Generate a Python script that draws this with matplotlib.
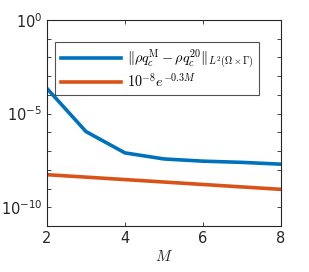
import matplotlib
matplotlib.use("Agg")
import matplotlib.pyplot as plt
from matplotlib.ticker import FixedLocator, NullFormatter, FixedFormatter
from matplotlib.font_manager import FontProperties

plt.rcParams['mathtext.fontset'] = 'dejavusans'

M = [2, 3, 4, 5, 6, 7, 8]
err = [2.2e-4, 1.1e-6, 8.0e-8, 3.8e-8, 2.9e-8, 2.5e-8, 2.0e-8]
ref = [5.49e-9, 4.07e-9, 3.01e-9, 2.23e-9, 1.65e-9, 1.22e-9, 9.07e-10]
xticks = [2, 4, 6, 8]
yticks = [1e-10, 1e-5, 1e0]
yticklabels = [r'10$^{-10}$', r'10$^{-5}$', r'10$^{0}$']

fig = plt.figure(figsize=(3.09, 2.72), dpi=100)
ax = fig.add_axes([47/309, 1-226/272, (281-47)/309, (226-20)/272])
ax.plot(M, err, color='#0072BD', lw=2.6,
        label=r'$\|\rho q_c^{\mathrm{M}} - \rho q_c^{20}\|_{L^2(\Omega\times\Gamma)}$')
ax.plot(M, ref, color='#D95319', lw=2.6, label=r'$10^{-8}e^{-0.3M}$')
ax.set_yscale('log')
ax.set_xlim(2, 8)
ax.set_ylim(1e-11, 1)
ax.set_xticks(xticks)
ax.yaxis.set_major_locator(FixedLocator(yticks))
ax.yaxis.set_major_formatter(FixedFormatter(yticklabels))
ax.yaxis.set_minor_locator(FixedLocator([10.0**k for k in range(-11, 1)]))
ax.yaxis.set_minor_formatter(NullFormatter())
ax.tick_params(which='both', direction='in', top=True, right=True, colors='#262626',
               labelsize=10.5, width=0.6, length=3)
for s in ax.spines.values():
    s.set_color('#262626')
    s.set_linewidth(0.8)
ax.set_xlabel(r'$M$', color='#262626', labelpad=2,
              fontproperties=FontProperties(size=11, math_fontfamily='cm'))
leg = ax.legend(loc='upper left', bbox_to_anchor=(0.035, 0.895),
                prop=FontProperties(size=10.3, math_fontfamily='cm'),
                frameon=True, fancybox=False, edgecolor='#262626', handlelength=4.2,
                borderpad=0.4, labelspacing=0.05, handletextpad=0.4, borderaxespad=0)
leg.get_frame().set_linewidth(0.8)
fig.savefig('out.png', dpi=100)
